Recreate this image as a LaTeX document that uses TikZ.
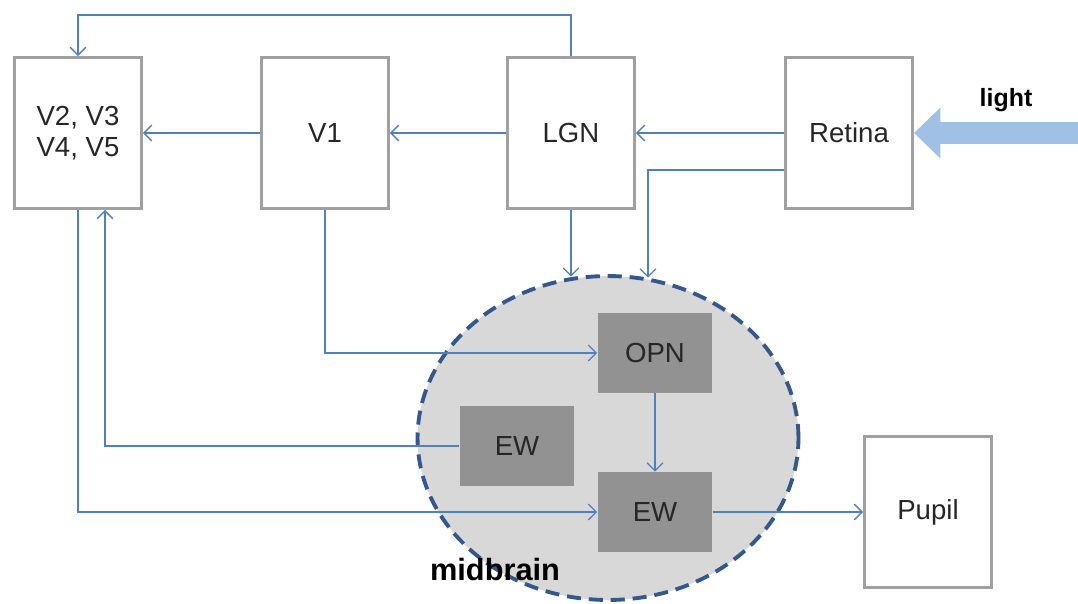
\documentclass[tikz,border=0pt]{standalone}
\usepackage{fontspec}
\setmainfont{Liberation Sans}
\usepackage{tikz}
\usepackage{xcolor}
\usetikzlibrary{calc,arrows.meta,shapes.geometric}
\definecolor{pathBlue}{RGB}{79,129,189}
\definecolor{lightBlue}{RGB}{160,192,230}
\definecolor{frameGray}{RGB}{160,160,160}
\definecolor{nucleusGray}{RGB}{146,146,146}
\definecolor{brainGray}{RGB}{216,216,216}
\definecolor{brainNavy}{RGB}{52,88,140}
\newcommand{\AreaFont}{\fontsize{15.7}{18}\selectfont}
\tikzset{
  areabox/.style={draw=frameGray,fill=white,line width=1.7pt,minimum width=2.54cm,minimum height=3.02cm,align=center,font=\AreaFont,text=black!85},
  nucleus/.style={fill=nucleusGray,minimum width=2.3cm,minimum height=1.6cm,font=\AreaFont,text=black!85},
  link/.style={draw=pathBlue,line width=0.75pt,-{Straight Barb[length=4.5pt,width=9pt]}}
}

\begin{document}
\begin{tikzpicture}[x=0.02cm,y=-0.02cm]
\useasboundingbox (0,0) rectangle (1078,603);
\node[ellipse,draw=brainNavy,fill=brainGray,line width=2.2pt,dash pattern=on 8pt off 4.5pt,inner sep=0pt,minimum width=7.62cm,minimum height=6.48cm] (brain) at (608,438) {};
\node[areabox] (v2) at (78,133) {V2, V3\\V4, V5};
\node[areabox] (v1) at (325,133) {V1};
\node[areabox] (lgn) at (571,133) {LGN};
\node[areabox] (retina) at (849,133) {Retina};
\node[areabox] (pupil) at (928,512) {Pupil};
\node[nucleus] (opn) at (655,353) {OPN};
\node[nucleus] (ewl) at (517,446) {EW};
\node[nucleus] (ewb) at (655,512) {EW};
\node[font=\fontsize{14.2}{17}\selectfont\bfseries] (lightlabel) at (1006,100) {light};
\node[font=\fontsize{17.5}{20}\selectfont\bfseries] (brainlabel) at (495,569) {midbrain};
\coordinate (lightsrc) at (1078,133);
\coordinate (retinaout) at ($(retina.west)+(0,37)$);
\coordinate (v2in) at ($(v2.south)+(27,0)$);
\draw[line width=13pt,draw=lightBlue,-{Triangle[length=15pt,width=28pt]}] (lightsrc) -- (retina.east);
\draw[link] (retina.west) -- (lgn.east);
\draw[link] (lgn.west) -- (v1.east);
\draw[link] (v1.west) -- (v2.east);
\draw[link] (lgn.north) -- ++(0,-41) -| (v2.north);
\draw[link] (lgn.south) -- (lgn.south |- brain.102);
\draw[link] (retinaout) -| (brain.76);
\draw[link] (v1.south) |- (opn.west);
\draw[link] (opn.south) -- (ewb.north);
\draw[link] (ewl.west) -| (v2in);
\draw[link] (v2.south) |- (ewb.west);
\draw[link] (ewb.east) -- (pupil.west);
\end{tikzpicture}
\end{document}
